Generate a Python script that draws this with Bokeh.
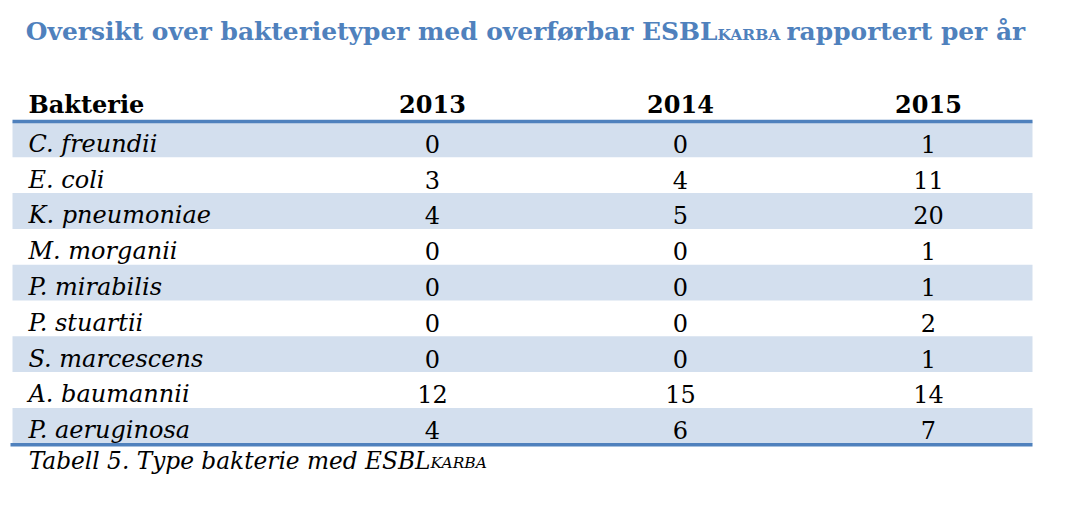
from bokeh.plotting import figure
from bokeh.models import Range1d
from bokeh.core.properties import value
from bokeh.embed import file_html
from bokeh.resources import INLINE

# ---- data ----
bacteria = ["C. freundii", "E. coli", "K. pneumoniae", "M. morganii", "P. mirabilis",
            "P. stuartii", "S. marcescens", "A. baumannii", "P. aeruginosa"]
years = ["2013", "2014", "2015"]
v2013 = [0, 3, 4, 0, 0, 0, 0, 12, 4]
v2014 = [0, 4, 5, 0, 0, 0, 0, 15, 6]
v2015 = [1, 11, 20, 1, 1, 2, 1, 14, 7]
header_label = "Bakterie"
title_main = "Oversikt over bakterietyper med overførbar ESBL"
title_sub = "KARBA"
title_tail = "rapportert per år"
caption_main = "Tabell 5. Type bakterie med ESBL"
caption_sub = "KARBA"

# ---- layout ----
W, H = 1077, 500
FONT = "DejaVu Serif"
BLUE = "#4F81BD"
STRIPE = "#D3DFEE"
K = 0.346  # baseline -> em-box middle offset (fraction of font size)
left, right = 12, 1032
label_x = 28
col_x = [432, 680, 928]
head_base = 112
line_y = 121
row_h = 35.8
row_base_off = 30.7
bottom_y = line_y + row_h * len(bacteria) + 1
BODY = 24
TITLE = 24.9
TSUB = 15.5
CAP = 23.25
CSUB = 15.5


def mid(base, size):
    return base - K * size


p = figure(width=W, height=H, output_backend="svg", toolbar_location=None,
           x_range=Range1d(0, W), y_range=Range1d(H, 0),
           min_border=0, outline_line_color=None)
p.axis.visible = False
p.grid.visible = False
p.background_fill_color = "white"
p.border_fill_color = "white"

n = len(bacteria)
tops = [line_y + i * row_h for i in range(n)]
mids = [mid(t + row_base_off, BODY) for t in tops]
stripe_idx = [i for i in range(n) if i % 2 == 0]
p.quad(left=left, right=right,
       top=[tops[i] for i in stripe_idx], bottom=[tops[i] + row_h for i in stripe_idx],
       fill_color=STRIPE, line_color=None)

# rules
p.segment(x0=[left, left - 2], x1=[right, right], y0=[line_y, bottom_y], y1=[line_y, bottom_y],
          line_color=BLUE, line_width=3.5)

common = dict(text_font=value(FONT), text_baseline="middle", text_color="black")
# header
hy = mid(head_base, BODY)
p.text(x=[label_x], y=[hy], text=[header_label], text_font_style="bold",
       text_font_size=f"{BODY}px", text_align="left", **common)
p.text(x=col_x, y=[hy] * 3, text=years, text_font_style="bold",
       text_font_size=f"{BODY}px", text_align="center", **common)

# body
p.text(x=[label_x] * n, y=mids, text=bacteria, text_font_style="italic",
       text_font_size=f"{BODY}px", text_align="left", **common)
for cx, vals in zip(col_x, [v2013, v2014, v2015]):
    p.text(x=[cx] * n, y=mids, text=[str(v) for v in vals],
           text_font_size=f"{BODY}px", text_align="center", **common)

# title
tb = 39.5
tcommon = dict(text_font=value(FONT), text_baseline="middle", text_color=BLUE,
               text_font_style="bold")
p.text(x=[717], y=[mid(tb, TITLE)], text=[title_main], text_font_size=f"{TITLE}px",
       text_align="right", **tcommon)
p.text(x=[717], y=[mid(tb, TSUB)], text=[title_sub], text_font_size=f"{TSUB}px",
       text_align="left", **tcommon)
p.text(x=[786], y=[mid(tb, TITLE)], text=[title_tail], text_font_size=f"{TITLE}px",
       text_align="left", **tcommon)

# caption
cb = 468
p.text(x=[430], y=[mid(cb, CAP)], text=[caption_main], text_font_style="italic",
       text_font_size=f"{CAP}px", text_align="right", **common)
p.text(x=[430], y=[mid(cb, CSUB)], text=[caption_sub], text_font_style="italic",
       text_font_size=f"{CSUB}px", text_align="left", **common)

open("out.html", "w").write(file_html(p, INLINE))
